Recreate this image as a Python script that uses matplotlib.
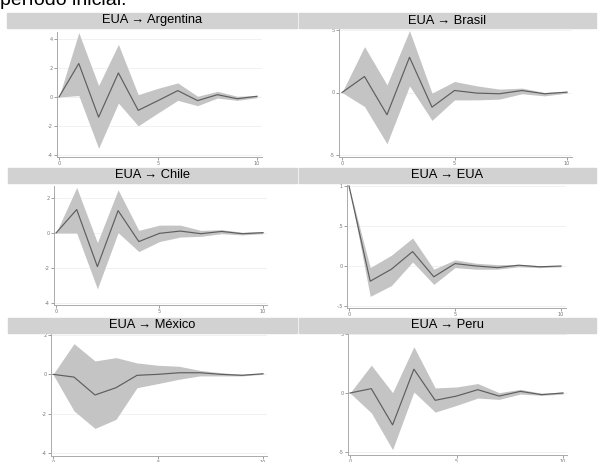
import matplotlib
matplotlib.use("Agg")
import matplotlib.pyplot as plt

W, H = 598, 462

steps = [0, 1, 2, 3, 4, 5, 6, 7, 8, 9, 10]

# impulse responses (irf) and confidence band (lo / hi)
arg_irf = [0, 2.31, -1.39, 1.66, -0.92, -0.25, 0.44, -0.25, 0.16, -0.12, 0.05]
arg_hi = [0, 4.44, 0.79, 3.63, 0.16, 0.60, 0.97, 0.05, 0.39, 0.05, 0.10]
arg_lo = [0, 0.10, -3.54, -0.42, -1.99, -1.10, -0.23, -0.60, -0.07, -0.23, -0.05]

bra_irf = [0, 1.28, -1.78, 2.82, -1.17, 0.16, -0.05, -0.10, 0.16, -0.10, 0.03]
bra_hi = [0, 3.67, 0.61, 4.95, -0.05, 0.88, 0.53, 0.27, 0.35, 0.0, 0.10]
bra_lo = [0, -1.12, -4.10, 0.53, -2.23, -0.59, -0.59, -0.53, -0.10, -0.27, -0.05]

chi_irf = [0, 1.34, -1.92, 1.28, -0.49, -0.02, 0.11, -0.04, 0.09, -0.04, 0.02]
chi_hi = [0, 2.60, -0.55, 2.47, 0.15, 0.45, 0.45, 0.15, 0.19, 0.04, 0.08]
chi_lo = [0, 0.0, -3.19, 0.02, -1.06, -0.49, -0.23, -0.19, -0.04, -0.11, -0.04]

eua_irf = [1, -0.19, -0.04, 0.18, -0.135, 0.03, 0.0, -0.02, 0.01, -0.01, 0.0]
eua_hi = [1, -0.02, 0.135, 0.35, -0.04, 0.076, 0.034, 0.017, 0.017, 0.004, 0.004]
eua_lo = [1, -0.38, -0.245, 0.05, -0.23, -0.02, -0.04, -0.04, -0.01, -0.02, -0.01]

mex_irf = [0, -0.14, -1.05, -0.68, -0.05, 0.0, 0.08, 0.08, 0.0, -0.05, 0.03]
mex_hi = [0, 1.56, 0.68, 0.85, 0.58, 0.46, 0.41, 0.20, 0.08, 0.0, 0.05]
mex_lo = [0, -1.86, -2.75, -2.29, -0.68, -0.47, -0.25, -0.08, -0.08, -0.08, 0.0]

per_irf = [0, 0.37, -2.70, 2.02, -0.62, -0.26, 0.28, -0.26, 0.14, -0.14, 0.0]
per_hi = [0, 2.36, 0.03, 3.92, 0.43, 0.51, 0.80, 0.03, 0.31, -0.03, 0.09]
per_lo = [0, -1.68, -4.80, 0.09, -1.62, -1.05, -0.43, -0.54, -0.09, -0.20, -0.09]

titles = ["EUA \u2192 Argentina", "EUA \u2192 Brasil", "EUA \u2192 Chile",
          "EUA \u2192 EUA", "EUA \u2192 México", "EUA \u2192 Peru"]
yticks = [[-4, -2, 0, 2, 4], [-5, 0, 5], [-4, -2, 0, 2],
          [-0.5, 0, 0.5, 1], [-4, -2, 0, 2], [-5, 0, 5]]
ylabels = [["-4", "-2", "0", "2", "4"], ["-5", "0", "5"], ["-4", "-2", "0", "2"],
           ["-.5", "0", ".5", "1"], ["-4", "-2", "0", "2"], ["-5", "0", "5"]]
series = [(arg_irf, arg_lo, arg_hi), (bra_irf, bra_lo, bra_hi),
          (chi_irf, chi_lo, chi_hi), (eua_irf, eua_lo, eua_hi),
          (mex_irf, mex_lo, mex_hi), (per_irf, per_lo, per_hi)]

# pixel layout: x of step 0 / step 10, two y ticks with their pixels, axes box
layout = [
    dict(x0=59, x10=257, v1=4, p1=39, v2=-4, p2=155, box=(57, 262, 32, 157)),
    dict(x0=342, x10=567, v1=5, p1=30, v2=-5, p2=155, box=(339, 572, 28, 157)),
    dict(x0=56, x10=263, v1=2, p1=198, v2=-4, p2=303, box=(54, 267, 186, 305)),
    dict(x0=349, x10=561, v1=1, p1=186, v2=-0.5, p2=306, box=(347, 566, 185, 308)),
    dict(x0=53, x10=263, v1=2, p1=335, v2=-4, p2=453, box=(51, 267, 334, 456)),
    dict(x0=350, x10=563, v1=5, p1=334, v2=-5, p2=452, box=(348, 567, 333, 455)),
]
strips = [(7, 297, 13, 28), (299, 596, 13, 28), (8, 297, 168, 183),
          (299, 596, 168, 183), (8, 297, 318, 333), (299, 596, 318, 333)]

fig = plt.figure(figsize=(W / 100, H / 100), dpi=100)
fig.patch.set_facecolor("white")

# cut-off line of text from the page above
fig.text(0.0, 1 - 5 / H, "período inicial.", fontsize=14, color="black",
         family="Liberation Sans", va="baseline", ha="left")

for i in range(6):
    lay = layout[i]
    left, right, top, bottom = lay["box"]
    s = (lay["x10"] - lay["x0"]) / 10
    k = (lay["p2"] - lay["p1"]) / (lay["v1"] - lay["v2"])
    ax = fig.add_axes([left / W, 1 - bottom / H, (right - left) / W, (bottom - top) / H])
    ax.set_xlim((left - lay["x0"]) / s, (right - lay["x0"]) / s)
    ax.set_ylim(lay["v2"] - (bottom - lay["p2"]) / k, lay["v1"] + (lay["p1"] - top) / k)

    irf, lo, hi = series[i]
    ax.fill_between(steps, lo, hi, color="#c4c4c4", lw=0, zorder=2)
    ax.plot(steps, irf, color="#5e5e5e", lw=0.85, zorder=3)

    for v in yticks[i]:
        ax.axhline(v, color="#ececec", lw=0.5, zorder=1)
    ax.set_yticks(yticks[i])
    ax.set_yticklabels(ylabels[i])
    ax.set_xticks([0, 5, 10])
    ax.set_xticklabels(["0", "5", "10"])
    ax.tick_params(labelsize=3.5, colors="#777777", length=2, width=0.5, pad=1)
    for side in ["top", "right"]:
        ax.spines[side].set_visible(False)
    for side in ["left", "bottom"]:
        ax.spines[side].set_color("#aaaaaa")
        ax.spines[side].set_linewidth(0.7)

    sl, sr, st, sb = strips[i]
    fig.patches.append(plt.Rectangle((sl / W, 1 - sb / H), (sr - sl) / W, (sb - st) / H,
                                     transform=fig.transFigure, color="#d2d2d2", zorder=0))
    fig.text((sl + sr) / 2 / W, 1 - (st + sb) / 2 / H, titles[i], fontsize=9.3,
             family="Liberation Sans", ha="center", va="center", color="black")

fig.savefig("out.png", dpi=100)
